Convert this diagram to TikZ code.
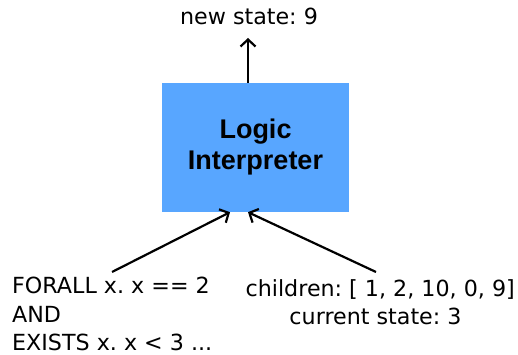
\documentclass[tikz,border=0pt]{standalone}
\usepackage{fontspec}
\setmainfont{DejaVu Sans}
\newfontfamily\boxfont{Liberation Sans}
\usetikzlibrary{arrows.meta,calc}
\definecolor{boxblue}{RGB}{88,166,255}
\frenchspacing
\tikzset{
  lbl/.style={inner sep=0pt, font=\fontsize{22.2}{26}\selectfont},
  flow/.style={line width=2.2pt, -{Straight Barb[length=7pt,width=15pt,line width=2.2pt]}},
  engine/.style={fill=boxblue, draw=none, minimum width=187pt, minimum height=129pt,
    align=center, inner sep=0pt, font=\boxfont\fontsize{27}{31}\selectfont\bfseries}
}
\begin{document}
\begin{tikzpicture}[x=1pt,y=1pt]
\useasboundingbox (0,0) rectangle (518,355);
% central interpreter block
\node[engine] (interp) at (255.5,207.5) {Logic\\Interpreter};
% output
\node[lbl, anchor=base] (newstate) at (249,330) {new state: 9};
% inputs
\node[lbl, anchor=base west] (forall) at (12,61) {FORALL x. x == 2};
\node[lbl, anchor=base west] (and) at (12,32) {AND};
\node[lbl, anchor=base west] (exists) at (12,4) {EXISTS x. x < 3 ...};
\node[lbl, anchor=base east] (children) at (515,58) {children: [ 1, 2, 10, 0, 9]};
\node[lbl, anchor=base] (current) at (375.5,30) {current state: 3};
% connector end points
\coordinate (fromL) at (112,83);
\coordinate (fromR) at (376,83);
\coordinate (toL) at ($(interp.south)+(-25.5,0)$);
\coordinate (toR) at ($(interp.south)+(-7.5,0)$);
\coordinate (outTop) at (248,317);
\draw[flow] (fromL) -- (toL);
\draw[flow] (fromR) -- (toR);
\draw[flow] (interp.north -| outTop) -- (outTop);
\end{tikzpicture}
\end{document}
